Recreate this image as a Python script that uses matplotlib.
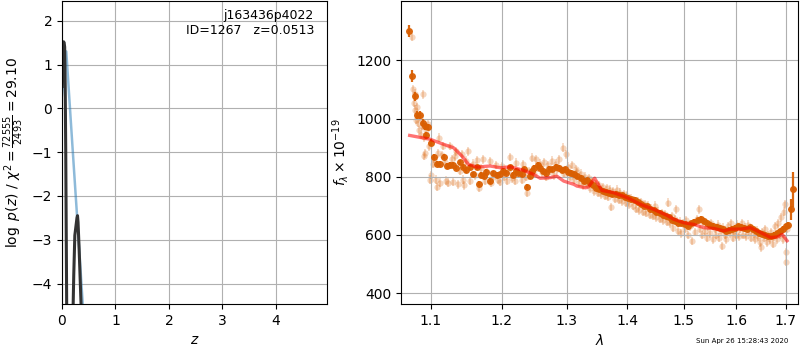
import matplotlib
matplotlib.use("Agg")
import matplotlib.pyplot as plt
from matplotlib.ticker import FixedLocator, NullLocator, FixedFormatter

# ---- left panel: p(z) ----
z_coarse = [0.0, 0.08, 0.2, 0.3, 0.4, 0.5]
logp_coarse = [0.3, 1.3, -0.95, -2.8, -4.7, -6.6]

z_fine = [0.0, 0.01, 0.02, 0.03, 0.04, 0.05, 0.06, 0.07, 0.08, 0.09, 0.10,
          0.19, 0.20, 0.22, 0.24, 0.26, 0.28, 0.29, 0.30, 0.32, 0.34, 0.36, 0.38]
logp_fine = [0.5, 1.2, 1.45, 1.52, 1.5, 1.4, 0.5, -1.0, -3.0, -5.0, -7.0,
             -7.0, -5.0, -3.8, -2.9, -2.7, -2.5, -2.45, -2.6, -3.2, -3.9, -4.6, -5.4]

obj_name = "j163436p4022"
obj_info = "ID=1267   z=0.0513"
ylabel_left = r"$\log\ p(z)$ / $\chi^2=\frac{72555}{2493}=29.10$"

# ---- right panel: spectrum ----
bin_wave = [1.0715, 1.0752, 1.0790, 1.0820, 1.0856, 1.0890, 1.0920, 1.0932, 1.0960, 1.1004,
            1.1050, 1.1080, 1.1126, 1.1180, 1.1216, 1.1260, 1.1310, 1.1350, 1.1400, 1.1440,
            1.1490, 1.1538, 1.1590, 1.1640, 1.1667, 1.1700, 1.1740, 1.1770, 1.1830, 1.1880,
            1.1930, 1.1980, 1.2020, 1.2066, 1.2125, 1.2170, 1.2210, 1.2250, 1.2297, 1.2340,
            1.2380, 1.2420, 1.2460, 1.2490, 1.2540, 1.2582, 1.2620, 1.2670, 1.2720, 1.2770,
            1.2820, 1.2875, 1.2920, 1.2970, 1.3020, 1.3066, 1.3110, 1.3170, 1.3220, 1.3270,
            1.3320, 1.3380, 1.3430, 1.3480, 1.3530, 1.3585, 1.3640, 1.3690, 1.3740, 1.3800,
            1.3850, 1.3905, 1.3960, 1.4015, 1.4070, 1.4125, 1.4180, 1.4230, 1.4290, 1.4340,
            1.4400, 1.4460, 1.4510, 1.4570, 1.4620, 1.4680, 1.4730, 1.4790, 1.4850, 1.4900,
            1.4960, 1.5020, 1.5080, 1.5140, 1.5200, 1.5260, 1.5320, 1.5380, 1.5440, 1.5500,
            1.5560, 1.5620, 1.5680, 1.5740, 1.5800, 1.5860, 1.5920, 1.5980, 1.6040, 1.6100,
            1.6160, 1.6220, 1.6280, 1.6340, 1.6400, 1.6460, 1.6520, 1.6580, 1.6640, 1.6700,
            1.6760, 1.6820, 1.6880, 1.6940, 1.7000, 1.7040, 1.7105, 1.7153]
bin_flux = [1301, 1146, 1077, 1012, 1012, 986, 974, 943, 971, 917,
            868, 845, 845, 869, 837, 840, 840, 831, 850, 834,
            822, 833, 808, 833, 776, 806, 802, 816, 785, 812,
            806, 808, 820, 814, 833, 806, 820, 814, 808, 825,
            766, 802, 820, 831, 840, 831, 820, 814, 828, 825,
            835, 831, 822, 825, 818, 814, 808, 802, 796, 785,
            788, 779, 770, 762, 758, 751, 748, 745, 740, 742,
            738, 736, 730, 728, 722, 720, 712, 706, 700, 698,
            690, 684, 678, 675, 668, 664, 660, 652, 648, 642,
            640, 636, 632, 640, 645, 650, 655, 648, 642, 635,
            632, 628, 625, 620, 615, 618, 620, 625, 630, 628,
            625, 622, 626, 620, 612, 608, 604, 600, 598, 595,
            600, 605, 612, 620, 630, 635, 688, 757]
bin_err = [20, 20, 15, 14, 14, 13, 12, 12, 12, 12] + [9] * 116 + [35, 60]

raw_wave = [1.0745, 1.0765, 1.0775, 1.0785, 1.0795, 1.0805, 1.0815, 1.0830, 1.0840, 1.0850,
            1.0865, 1.0880, 1.0895, 1.0905, 1.0915, 1.0925, 1.0940, 1.0960, 1.0975, 1.0990,
            1.1010, 1.1030, 1.1050, 1.1070, 1.1090, 1.1100, 1.1116, 1.1126, 1.1150, 1.1163,
            1.1190, 1.1210, 1.1240, 1.1263, 1.1290, 1.1310, 1.1335, 1.1350, 1.1370, 1.1400,
            1.1427, 1.1450, 1.1465, 1.1490, 1.1520, 1.1550, 1.1580, 1.1610, 1.1645, 1.1667,
            1.1700, 1.1730, 1.1760, 1.1790, 1.1832, 1.1850, 1.1880, 1.1920, 1.1950, 1.1978,
            1.2000, 1.2040, 1.2075, 1.2100, 1.2125, 1.2160, 1.2200, 1.2220, 1.2260, 1.2300,
            1.2326, 1.2360, 1.2380, 1.2410, 1.2450, 1.2480, 1.2520, 1.2550, 1.2580, 1.2610,
            1.2640, 1.2670, 1.2700, 1.2730, 1.2760, 1.2790, 1.2820, 1.2850, 1.2880, 1.2930,
            1.2960, 1.2990, 1.3020, 1.3050, 1.3080, 1.3110, 1.3140, 1.3170, 1.3200, 1.3230,
            1.3260, 1.3290, 1.3320, 1.3350, 1.3380, 1.3410, 1.3440, 1.3470, 1.3500, 1.3530,
            1.3560, 1.3590, 1.3620, 1.3650, 1.3680, 1.3710, 1.3730, 1.3760, 1.3790, 1.3820,
            1.3850, 1.3880, 1.3910, 1.3940, 1.3970, 1.4000, 1.4030, 1.4060, 1.4090, 1.4120,
            1.4150, 1.4180, 1.4210, 1.4240, 1.4270, 1.4300, 1.4330, 1.4360, 1.4390, 1.4420,
            1.4450, 1.4480, 1.4510, 1.4540, 1.4570, 1.4600, 1.4630, 1.4660, 1.4690, 1.4716,
            1.4750, 1.4780, 1.4810, 1.4840, 1.4870, 1.4900, 1.4930, 1.4960, 1.4990, 1.5020,
            1.5050, 1.5080, 1.5110, 1.5150, 1.5180, 1.5210, 1.5240, 1.5280, 1.5310, 1.5340,
            1.5370, 1.5400, 1.5430, 1.5460, 1.5490, 1.5520, 1.5550, 1.5580, 1.5610, 1.5640,
            1.5670, 1.5700, 1.5720, 1.5750, 1.5780, 1.5810, 1.5840, 1.5870, 1.5900, 1.5930,
            1.5960, 1.5990, 1.6020, 1.6050, 1.6080, 1.6110, 1.6140, 1.6170, 1.6200, 1.6230,
            1.6260, 1.6290, 1.6320, 1.6350, 1.6380, 1.6410, 1.6440, 1.6470, 1.6490, 1.6520,
            1.6550, 1.6580, 1.6610, 1.6640, 1.6670, 1.6700, 1.6730, 1.6760, 1.6790, 1.6820,
            1.6850, 1.6880, 1.6910, 1.6940, 1.6970, 1.6990, 1.7000, 1.7010, 1.7020]
raw_flux = [1280, 1100, 1055, 1085, 1030, 995, 1040, 985, 960, 1005,
            945, 975, 1083, 935, 871, 880, 960, 981, 905, 790,
            806, 845, 862, 790, 765, 880, 934, 780, 875, 906,
            850, 786, 780, 906, 860, 783, 870, 888, 774, 820,
            877, 790, 771, 855, 888, 785, 845, 805, 856, 762,
            830, 860, 785, 815, 854, 780, 800, 840, 790, 783,
            837, 800, 785, 820, 868, 795, 785, 848, 815, 790,
            843, 800, 745, 820, 865, 810, 860, 830, 845, 815,
            850, 800, 840, 820, 855, 805, 845, 825, 860, 900,
            810, 877, 835, 800, 840, 790, 825, 815, 780, 810,
            770, 800, 775, 795, 760, 785, 750, 775, 745, 770,
            740, 765, 735, 760, 730, 755, 696, 750, 725, 755,
            720, 745, 715, 740, 710, 735, 705, 725, 700, 720,
            690, 715, 685, 712, 680, 705, 675, 700, 670, 690,
            665, 700, 660, 680, 655, 675, 650, 672, 645, 711,
            640, 665, 625, 655, 688, 615, 645, 605, 640, 620,
            650, 600, 630, 579, 640, 610, 655, 688, 620, 600,
            645, 615, 590, 630, 605, 640, 585, 620, 600, 635,
            590, 615, 562, 625, 600, 585, 630, 605, 640, 590,
            615, 600, 635, 595, 620, 640, 600, 625, 595, 635,
            610, 590, 620, 605, 585, 615, 595, 575, 558, 610,
            590, 620, 575, 600, 585, 610, 570, 595, 630, 585,
            640, 600, 660, 585, 680, 705, 540, 508, 620]

model_wave = [1.072, 1.099, 1.118, 1.131, 1.143, 1.152, 1.164, 1.183, 1.198, 1.213,
              1.233, 1.248, 1.258, 1.274, 1.284, 1.295, 1.311, 1.316, 1.330, 1.335,
              1.345, 1.357, 1.377, 1.400, 1.423, 1.446, 1.470, 1.482, 1.500, 1.519,
              1.538, 1.557, 1.576, 1.589, 1.609, 1.628, 1.649, 1.669, 1.683, 1.693, 1.703]
model_flux = [942, 929, 911, 900, 871, 843, 833, 837, 831, 834,
              822, 808, 795, 797, 802, 785, 774, 768, 762, 765,
              795, 753, 745, 728, 705, 688, 667, 654, 642, 636,
              625, 622, 614, 620, 620, 625, 608, 591, 593, 602, 580]

x_ticks = [1.1, 1.2, 1.3, 1.4, 1.5, 1.6, 1.7]
x_ticklabels = ["1.1", "1.2", "1.3", "1.4", "1.5", "1.6", "1.7"]
y_ticks = [400, 600, 800, 1000, 1200]
timestamp = "Sun Apr 26 15:28:43 2020"

orange = "#d95f02"

fig = plt.figure(figsize=(8, 3.5), dpi=100)
ax1 = fig.add_axes([0.0775, 0.131, 0.3315, 0.866])
ax2 = fig.add_axes([0.5012, 0.131, 0.4963, 0.866])

ax1.plot(z_coarse, logp_coarse, color="tab:blue", alpha=0.5, lw=1.8)
ax1.plot(z_fine, logp_fine, color="0.2", lw=2.2)
ax1.set_xlim(0, 4.96)
ax1.set_ylim(-4.47, 2.45)
ax1.set_xticks([0, 1, 2, 3, 4])
ax1.set_yticks([-4, -3, -2, -1, 0, 1, 2])
ax1.grid(True)
ax1.set_xlabel(r"$z$")
ax1.set_ylabel(ylabel_left)
ax1.text(0.95, 0.975, obj_name + "\n" + obj_info, transform=ax1.transAxes,
         ha="right", va="top", fontsize=9)

ax2.errorbar(raw_wave, raw_flux, yerr=15, fmt="o", color=orange, alpha=0.25,
             ms=4.5, mec="none", elinewidth=1.2, zorder=1)
ax2.errorbar(bin_wave, bin_flux, yerr=bin_err, fmt="o", color=orange, alpha=0.95,
             ms=5, mec="none", elinewidth=1.6, zorder=2)
ax2.plot(model_wave, model_flux, color="red", alpha=0.55, lw=2.4, zorder=3)
ax2.set_xscale("log")
ax2.set_xlim(1.0606, 1.726)
ax2.set_ylim(362, 1404)
ax2.xaxis.set_major_locator(FixedLocator(x_ticks))
ax2.xaxis.set_major_formatter(FixedFormatter(x_ticklabels))
ax2.xaxis.set_minor_locator(NullLocator())
ax2.set_yticks(y_ticks)
ax2.grid(True)
ax2.set_xlabel(r"$\lambda$")
ax2.set_ylabel(r"$f_\lambda\times10^{-19}$")

fig.text(0.985, 0.018, timestamp, ha="right", va="bottom", fontsize=5)

fig.savefig("out.png", dpi=100)
